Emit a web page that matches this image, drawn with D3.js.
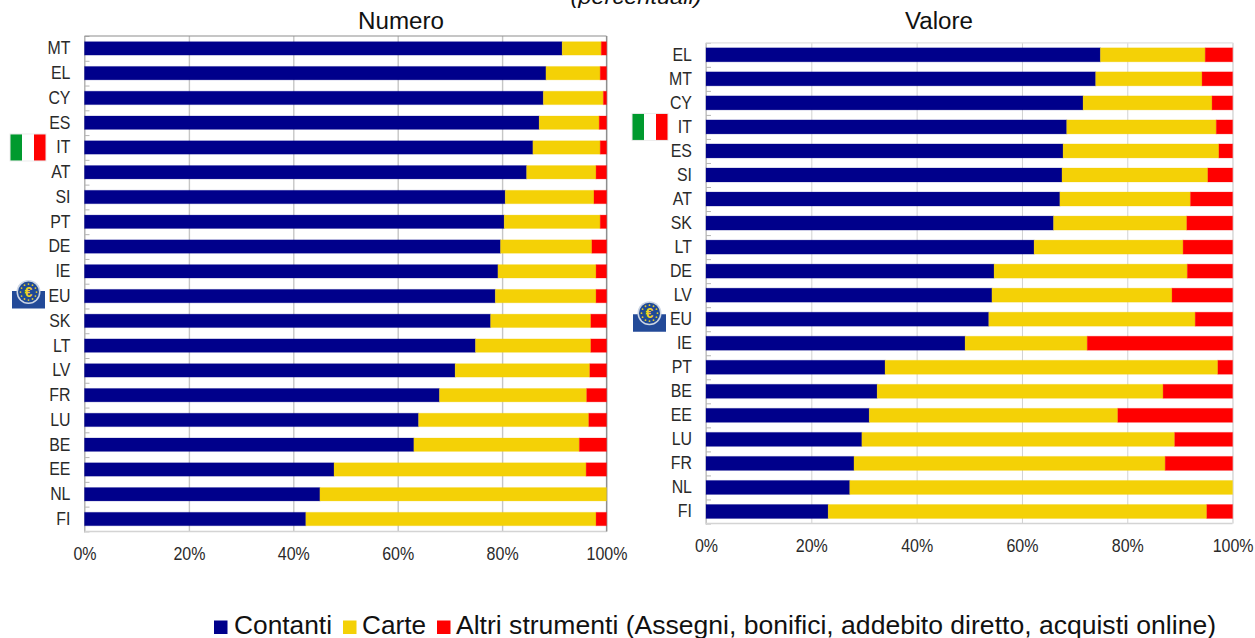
<!DOCTYPE html>
<html>
<head>
<meta charset="utf-8">
<script src="https://cdn.jsdelivr.net/npm/d3@7"></script>
<style>
  html, body { margin: 0; padding: 0; background: #fff; }
  svg { display: block; font-family: "Liberation Sans", Arial, sans-serif; }
  .grid path { display: none; }
  .inner path, .inner line { stroke: #b5b5b5; }
  .labels path, .labels line { display: none; }
  .labels text { font-size: 18.5px; fill: #2a2a2a; }
  .xaxis path, .xaxis line { display: none; }
  .xaxis text { font-size: 18px; fill: #2a2a2a; }
  .bars rect { stroke-width: 1; stroke-opacity: 0.25; }
</style>
</head>
<body>
<script>
// Data (percent)
const seriesNames = ['Contanti', 'Carte', 'Altri strumenti (Assegni, bonifici, addebito diretto, acquisti online)'];
const colors = ['#00008b', '#f4d106', '#ff0000'];
const ticks = [0, 20, 40, 60, 80, 100];

const numCountries = ['MT','EL','CY','ES','IT','AT','SI','PT','DE','IE','EU','SK','LT','LV','FR','LU','BE','EE','NL','FI'];
const numContanti = [91.5,88.4,87.9,87.1,85.9,84.7,80.6,80.4,79.7,79.2,78.7,77.8,74.9,71.0,68.0,64.0,63.1,47.8,45.1,42.4];
const numCarte = [7.5,10.4,11.5,11.5,12.9,13.3,17.0,18.4,17.5,18.8,19.3,19.2,22.1,25.8,28.2,32.6,31.7,48.3,54.9,55.6];

const valCountries = ['EL','MT','CY','IT','ES','SI','AT','SK','LT','DE','LV','EU','IE','PT','BE','EE','LU','FR','NL','FI'];
const valContanti = [74.9,74.0,71.6,68.5,67.8,67.6,67.2,66.0,62.3,54.7,54.3,53.7,49.2,34.0,32.5,31.0,29.6,28.1,27.3,23.2];
const valCarte = [19.9,20.2,24.5,28.4,29.6,27.7,24.8,25.3,28.3,36.7,34.2,39.2,23.2,63.2,54.3,47.2,59.4,59.1,72.7,71.9];

const svg = d3.select('body').append('svg')
  .attr('width', 1255)
  .attr('height', 638);

// Stacked bar panel
function panel(countries, contanti, carte, o) {
  const xScale = d3.scaleLinear().domain([0, 100]).range([o.x0, o.x1]);
  const yScale = d3.scaleBand().domain(countries).range([o.y0, o.y1]);
  const edgeScale = d3.scaleLinear().domain([0, countries.length]).range([o.y0, o.y1]);

  const rows = countries.map((c, i) => ({
    country: c,
    Contanti: contanti[i],
    Carte: carte[i],
    Altri: 100 - contanti[i] - carte[i]
  }));
  const stacked = d3.stack().keys(['Contanti', 'Carte', 'Altri'])(rows);

  const grid = svg.append('g').attr('class', 'grid')
    .attr('transform', `translate(0,${o.y1})`)
    .call(d3.axisBottom(xScale).tickValues(ticks).tickSize(o.y0 - o.y1).tickFormat(''));
  grid.selectAll('line').attr('stroke', o.gridColor).attr('stroke-width', o.gridWidth);

  svg.append('g').attr('class', 'inner')
    .attr('transform', `translate(${o.x0},0)`)
    .call(d3.axisRight(edgeScale).ticks(countries.length).tickSize(5).tickFormat(''))
    .select('path').attr('d', `M0,${o.y0}V${o.y1 + 1}`);

  svg.append('line')
    .attr('x1', o.x0).attr('x2', o.x1)
    .attr('y1', o.y0).attr('y2', o.y0)
    .attr('stroke', o.frameColor).attr('stroke-width', 1.2);
  svg.append('line')
    .attr('x1', o.x0).attr('x2', o.x1)
    .attr('y1', o.y1).attr('y2', o.y1)
    .attr('stroke', '#d4d4d4').attr('stroke-width', 1.5);
  svg.append('line')
    .attr('x1', o.x1).attr('x2', o.x1)
    .attr('y1', o.y0).attr('y2', o.y1)
    .attr('stroke', o.frameColor).attr('stroke-width', 1.2);

  svg.selectAll(null)
    .data(stacked)
    .enter().append('g')
    .attr('class', 'bars')
    .attr('fill', (d, i) => colors[i])
    .attr('stroke', (d, i) => colors[i])
    .selectAll('rect')
    .data(d => d)
    .enter().append('rect')
    .attr('x', d => xScale(d[0]))
    .attr('width', d => xScale(d[1]) - xScale(d[0]))
    .attr('y', d => yScale(d.data.country) + yScale.bandwidth() / 2 - o.barH / 2)
    .attr('height', o.barH);

  // the reference labels are narrower than the font, squeeze them with a scale
  svg.append('g').attr('class', 'labels')
    .attr('transform', `translate(${o.x0 - 5},0)`)
    .call(d3.axisLeft(yScale).tickSize(0).tickPadding(10.5))
    .selectAll('text').attr('transform', 'scale(0.86,1)');

  svg.append('g').attr('class', 'xaxis')
    .attr('transform', `translate(0,${o.y1 + o.tickGap})`)
    .call(d3.axisBottom(xScale).tickValues(ticks).tickSize(0).tickFormat(d => d + '%'))
    .selectAll('text').attr('transform', 'scale(0.89,1)');

  return yScale;
}

const yNum = panel(numCountries, numContanti, numCarte, {
  x0: 84.5, x1: 606.5, y0: 36, y1: 531.4, barH: 13.4,
  gridColor: '#c6c6c6', gridWidth: 1.4, frameColor: '#8e8e8e', tickGap: 13
});
const yVal = panel(valCountries, valContanti, valCarte, {
  x0: 706, x1: 1232.6, y0: 42.8, y1: 523.5, barH: 14,
  gridColor: '#d2d2d2', gridWidth: 1, frameColor: '#e0e0e0', tickGap: 13
});

// Titles, the first one is cut by the top edge in the reference too
svg.append('text').attr('x', 636).attr('y', 3.5)
  .attr('text-anchor', 'middle').attr('font-style', 'italic').attr('font-size', 20).attr('fill', '#111')
  .attr('textLength', 131).attr('lengthAdjust', 'spacingAndGlyphs')
  .text('(percentuali)');
svg.append('text').attr('x', 401).attr('y', 29)
  .attr('text-anchor', 'middle').attr('font-size', 23.5).attr('fill', '#111')
  .attr('textLength', 86).attr('lengthAdjust', 'spacingAndGlyphs')
  .text('Numero');
svg.append('text').attr('x', 939).attr('y', 29)
  .attr('text-anchor', 'middle').attr('font-size', 23.5).attr('fill', '#111')
  .attr('textLength', 68).attr('lengthAdjust', 'spacingAndGlyphs')
  .text('Valore');

// Italian flag beside IT
function flag(x, yMid) {
  const g = svg.append('g').attr('transform', `translate(${x},${yMid - 13.5})`);
  ['#009a2e', '#ffffff', '#ff0000'].forEach((c, i) => {
    g.append('rect').attr('x', i * 12).attr('width', 12).attr('height', 27).attr('fill', c);
  });
  g.append('rect').attr('width', 36).attr('height', 27).attr('fill', 'none').attr('stroke', '#ececec');
}
flag(10, yNum('IT') + yNum.bandwidth() / 2);
flag(632, yVal('IT') + yVal.bandwidth() / 2);

// ECB style euro badge beside EU
function badge(x, yMid, dy) {
  const g = svg.append('g').attr('transform', `translate(${x},${yMid})`);
  g.append('path')
    .attr('d', 'M0,-5H33V12.5H0Z')
    .attr('fill', '#234a98');
  g.append('circle').attr('cx', 16.5).attr('cy', dy).attr('r', 12).attr('fill', '#cdd6e4');
  g.append('circle').attr('cx', 16.5).attr('cy', dy).attr('r', 10.5).attr('fill', '#1f4a96');
  d3.range(12).forEach(i => {
    const a = i * Math.PI / 6;
    g.append('circle')
      .attr('cx', 16.5 + 8 * Math.cos(a))
      .attr('cy', dy + 8 * Math.sin(a))
      .attr('r', 0.9).attr('fill', '#e5c92a');
  });
  g.append('text').attr('x', 16.5).attr('y', dy + 5)
    .attr('text-anchor', 'middle').attr('font-size', 14).attr('font-weight', 'bold').attr('fill', '#f0d225')
    .text('€');
}
badge(12, yNum('EU') + yNum.bandwidth() / 2, -4);
badge(633, yVal('EU') + yVal.bandwidth() / 2, -6);

// Legend
const legendX = [214, 343, 437];
const legendTextX = [234, 362, 456];
const legendLen = [98, 64, 760];
seriesNames.forEach((name, i) => {
  svg.append('rect')
    .attr('x', legendX[i]).attr('y', 620.5).attr('width', 13.5).attr('height', 13.5)
    .attr('fill', colors[i]);
  svg.append('text')
    .attr('x', legendTextX[i]).attr('y', 634)
    .attr('font-size', 25.5).attr('fill', '#111')
    .attr('textLength', legendLen[i]).attr('lengthAdjust', 'spacingAndGlyphs')
    .text(name);
});
</script>
</body>
</html>
